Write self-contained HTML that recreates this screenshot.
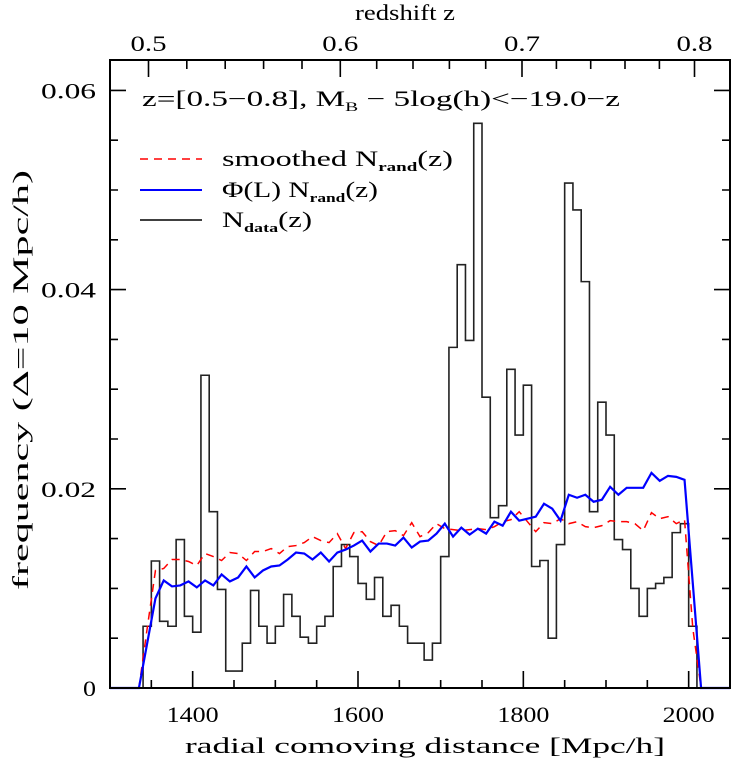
<!DOCTYPE html>
<html><head><meta charset="utf-8"><style>
html,body{margin:0;padding:0;background:#fff;}
svg{display:block;font-family:"Liberation Serif","DejaVu Serif",serif;}
</style></head><body>
<svg id="chart" width="732" height="759" viewBox="0 0 732 759" xmlns="http://www.w3.org/2000/svg">
<g id="marks"></g>
<g id="axes"></g>
<text x="355" y="20" font-size="22" textLength="100" lengthAdjust="spacingAndGlyphs">redshift z</text>
<text x="142" y="106" font-size="22" textLength="478" lengthAdjust="spacingAndGlyphs">z=[0.5−0.8], M<tspan font-size="13" dy="5">B</tspan><tspan dy="-5"> − 5log(h)&lt;−19.0−z</tspan></text>
<g>
<line x1="140" y1="159" x2="202" y2="159" stroke="#f00" stroke-width="1.5" stroke-dasharray="8,6"/>
<text x="222" y="166" font-size="22" textLength="231" lengthAdjust="spacingAndGlyphs">smoothed N<tspan font-size="13" dy="5" font-weight="bold">rand</tspan><tspan dy="-5">(z)</tspan></text>
<line x1="140" y1="190" x2="202" y2="190" stroke="#00f" stroke-width="2"/>
<text x="222" y="197" font-size="22" textLength="156" lengthAdjust="spacingAndGlyphs">Φ(L) N<tspan font-size="13" dy="5" font-weight="bold">rand</tspan><tspan dy="-5">(z)</tspan></text>
<line x1="140" y1="220" x2="202" y2="220" stroke="#000" stroke-width="1.5"/>
<text x="222" y="227" font-size="22" textLength="90" lengthAdjust="spacingAndGlyphs">N<tspan font-size="13" dy="5" font-weight="bold">data</tspan><tspan dy="-5">(z)</tspan></text>
</g>
<text x="185" y="753" font-size="22" textLength="480" lengthAdjust="spacingAndGlyphs">radial comoving distance [Mpc/h]</text>
<text transform="translate(28,590) rotate(-90)" font-size="22" textLength="420" lengthAdjust="spacingAndGlyphs">frequency (Δ=10 Mpc/h)</text>
</svg>
<script>
const histBinStarts = [1340,1350,1360,1370,1380,1390,1400,1410,1420,1430,1440,1450,1460,1470,1480,1490,1500,1510,1520,1530,1540,1550,1560,1570,1580,1590,1600,1610,1620,1630,1640,1650,1660,1670,1680,1690,1700,1710,1720,1730,1740,1750,1760,1770,1780,1790,1800,1810,1820,1830,1840,1850,1860,1870,1880,1890,1900,1910,1920,1930,1940,1950,1960,1970,1980,1990,2000];
const histValues = [.0062,.01275,.0067,.0062,.0149,.0072,.0056,.0314,.0177,.0099,.0017,.0017,.0045,.0098,.0062,.0045,.0062,.0094,.0072,.0051,.0045,.0062,.0072,.0122,.0144,.0132,.0105,.0089,.0111,.0072,.0083,.0062,.0045,.0045,.0028,.0045,.0132,.0342,.0425,.0349,.0567,.0292,.0171,.0183,.0320,.0254,.0304,.0122,.0128,.0050,.0144,.0507,.0480,.0408,.0177,.0287,.0254,.0149,.0139,.0100,.0072,.0100,.0105,.0111,.0156,.0165,.0062];
const curveCenters = [1335,1345,1355,1365,1375,1385,1395,1405,1415,1425,1435,1445,1455,1465,1475,1485,1495,1505,1515,1525,1535,1545,1555,1565,1575,1585,1595,1605,1615,1625,1635,1645,1655,1665,1675,1685,1695,1705,1715,1725,1735,1745,1755,1765,1775,1785,1795,1805,1815,1825,1835,1845,1855,1865,1875,1885,1895,1905,1915,1925,1935,1945,1955,1965,1975,1985,1995,2005,2015];
const blueValues = [0,.0045,.0090,.0108,.0102,.0103,.0107,.0101,.0108,.0103,.0114,.0107,.0111,.0122,.0111,.0118,.0122,.0123,.0129,.0136,.0135,.0129,.0136,.0127,.0136,.0139,.0143,.0148,.0137,.0145,.0145,.0143,.0151,.0141,.0147,.0148,.0155,.0165,.0152,.0161,.0154,.0160,.0155,.0167,.0163,.0177,.0168,.0170,.0172,.0185,.0180,.0168,.0194,.0191,.0194,.0187,.0189,.0202,.0194,.0201,.0201,.0201,.0216,.0208,.0213,.0212,.0209,.0105,0];
const redValues = [0,.0060,.0118,.0120,.0129,.0129,.0127,.0123,.0135,.0132,.0128,.0136,.0135,.0128,.0137,.0137,.0140,.0135,.0142,.0143,.0146,.0152,.0148,.0146,.0155,.0140,.0156,.0157,.0147,.0143,.0157,.0158,.0153,.0166,.0152,.0156,.0165,.0160,.0159,.0158,.0159,.0160,.0159,.0162,.0167,.0169,.0177,.0167,.0157,.0166,.0165,.0170,.0165,.0167,.0162,.0161,.0163,.0168,.0167,.0167,.0165,.0158,.0176,.0170,.0172,.0165,.0169,.0060,0];
const xTicks = [1400,1600,1800,2000];
const yTicks = [0,0.02,0.04,0.06];
const yTickLabels = ["0","0.02","0.04","0.06"];
const zTickLabels = ["0.5","0.6","0.7","0.8"];
const zTickPx = [148.5,340.3,522,694.5];
const zMinorPx = [186.8,225.2,263.6,302,376.7,413,449.4,485.7,556.4,590.7,625,659.4];

const L=110,R=730,T=60,B=688, D0=1300, D1=2050;
const xs = d => L + (d-D0)*(R-L)/(D1-D0);
const ys = v => B - v*9960;
const NS="http://www.w3.org/2000/svg";
const marks=document.getElementById('marks'), axes=document.getElementById('axes');
function mk(tag, attrs, parent){const e=document.createElementNS(NS,tag);for(const k in attrs)e.setAttribute(k,attrs[k]);parent.appendChild(e);return e;}

let dd = `M${xs(D0)},${ys(0)} L${xs(histBinStarts[0])},${ys(0)}`;
histBinStarts.forEach((b,i)=>{dd+=` L${xs(b)},${ys(histValues[i])} L${xs(b+10)},${ys(histValues[i])}`;});
dd+=` L${xs(histBinStarts[histBinStarts.length-1]+10)},${ys(0)} L${xs(D1)},${ys(0)}`;
const h=mk('path',{d:dd,fill:'none',stroke:'#222','stroke-width':1.6},marks);



function linePath(vals){let p=`M${xs(D0)},${ys(0)}`;curveCenters.forEach((c,i)=>{p+=` L${xs(c)},${ys(vals[i])}`;});p+=` L${xs(D1)},${ys(0)}`;return p;}
const rl=mk('path',{d:linePath(redValues),fill:'none',stroke:'#f00','stroke-width':1.5,'stroke-dasharray':'8,6'},marks);


const bl=mk('path',{d:linePath(blueValues),fill:'none',stroke:'#00f','stroke-width':2.2},marks);



const fr=mk('rect',{x:L,y:T,width:R-L,height:B-T,fill:'none',stroke:'#000','stroke-width':2},axes);


let tk='';
for(let d=1350; d<=2050; d+=50){const len=(d%200===0)?17:8;const x=xs(d);tk+=`M${x},${B}v${-len}`;}
for(let v=0.005; v<0.0625; v+=0.005){const major=Math.abs(v/0.02-Math.round(v/0.02))<1e-6;const len=major?16:8;const y=ys(v);tk+=`M${L},${y}h${len}M${R},${y}h${-len}`;}
zTickPx.forEach(x=>{tk+=`M${x},${T}v17`;});
zMinorPx.forEach(x=>{tk+=`M${x},${T}v9`;});
const tp=mk('path',{d:tk,stroke:'#000','stroke-width':1.6,fill:'none'},axes);


xTicks.forEach(d=>{const t=mk('text',{x:xs(d)-26,y:722,'font-size':22,textLength:52,lengthAdjust:'spacingAndGlyphs'},axes);t.textContent=d;

});
yTicks.forEach((v,i)=>{const lbl=yTickLabels[i];const w=lbl.length===1?13:55;const t=mk('text',{x:96-w,y:ys(v)+8,'font-size':22,textLength:w,lengthAdjust:'spacingAndGlyphs'},axes);t.textContent=lbl;

});
zTickPx.forEach((x,i)=>{const t=mk('text',{x:x-18,y:51,'font-size':22,textLength:36,lengthAdjust:'spacingAndGlyphs'},axes);t.textContent=zTickLabels[i];

});
</script>
</body></html>
